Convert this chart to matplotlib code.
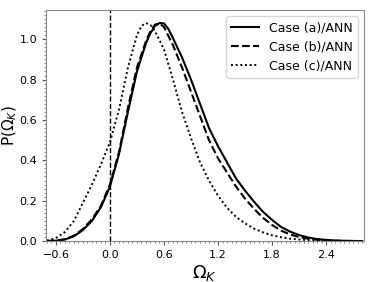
import matplotlib
matplotlib.use("Agg")
import matplotlib.pyplot as plt
from matplotlib.ticker import MultipleLocator

x_a = [-0.7, -0.6, -0.5, -0.4, -0.3, -0.2, -0.1, 0.0, 0.1, 0.2, 0.3, 0.4, 0.45, 0.5, 0.55, 0.6, 0.65,
       0.7, 0.8, 0.9, 1.0, 1.1, 1.2, 1.3, 1.4, 1.5, 1.6, 1.7, 1.8, 1.9, 2.0, 2.1, 2.2,
       2.3, 2.4, 2.5, 2.6, 2.7, 2.8]
p_a = [0.0005, 0.002, 0.008, 0.024, 0.055, 0.10, 0.168, 0.27, 0.43, 0.64, 0.84, 0.98, 1.03, 1.065, 1.08, 1.078, 1.05,
       1.005, 0.91, 0.80, 0.68, 0.56, 0.47, 0.39, 0.31, 0.25, 0.195, 0.145, 0.105, 0.07, 0.047, 0.03, 0.018,
       0.01, 0.006, 0.003, 0.0015, 0.0007, 0.0003]

x_b = [-0.7, -0.6, -0.5, -0.4, -0.3, -0.2, -0.1, 0.0, 0.1, 0.2, 0.3, 0.4, 0.45, 0.5, 0.55, 0.6,
       0.7, 0.8, 0.9, 1.0, 1.1, 1.2, 1.3, 1.4, 1.5, 1.6, 1.7, 1.8, 1.9, 2.0, 2.1, 2.2,
       2.3, 2.4, 2.5, 2.6, 2.7, 2.8]
p_b = [0.0005, 0.002, 0.009, 0.027, 0.06, 0.108, 0.175, 0.28, 0.44, 0.66, 0.86, 0.99, 1.04, 1.072, 1.078, 1.06,
       0.97, 0.86, 0.74, 0.62, 0.50, 0.41, 0.34, 0.27, 0.21, 0.16, 0.115, 0.08, 0.052, 0.033, 0.02, 0.012,
       0.007, 0.004, 0.002, 0.001, 0.0005, 0.0002]

x_c = [-0.7, -0.6, -0.5, -0.4, -0.3, -0.2, -0.1, 0.0, 0.1, 0.2, 0.3, 0.35, 0.4, 0.45, 0.5, 0.6,
       0.7, 0.8, 0.9, 1.0, 1.1, 1.2, 1.3, 1.4, 1.5, 1.6, 1.7, 1.8, 1.9, 2.0, 2.1, 2.2,
       2.3, 2.4, 2.5, 2.6, 2.7, 2.8]
p_c = [0.003, 0.015, 0.045, 0.10, 0.19, 0.28, 0.38, 0.49, 0.65, 0.86, 1.02, 1.065, 1.08, 1.07, 1.04, 0.95,
       0.80, 0.64, 0.51, 0.39, 0.30, 0.225, 0.165, 0.12, 0.088, 0.062, 0.043, 0.029, 0.019, 0.012, 0.008, 0.005,
       0.003, 0.002, 0.001, 0.0005, 0.0003, 0.0001]

labels = ["Case (a)/ANN", "Case (b)/ANN", "Case (c)/ANN"]
xticks = [-0.6, 0.0, 0.6, 1.2, 1.8, 2.4]
yticks = [0.0, 0.2, 0.4, 0.6, 0.8, 1.0]

fig = plt.figure(figsize=(3.74, 2.82), dpi=100)
ax = fig.add_axes([0.123, 0.145, 0.85, 0.82])

ax.plot(x_a, p_a, color="black", ls="-", lw=1.5, label=labels[0])
ax.plot(x_b, p_b, color="black", ls="--", lw=1.5, label=labels[1])
ax.plot(x_c, p_c, color="black", ls=(0, (1, 1.4)), lw=1.4, label=labels[2])
ax.axvline(0.0, color="black", ls="--", lw=1.0)

ax.set_xlim(-0.71, 2.82)
ax.set_ylim(0, 1.145)
ax.set_xticks(xticks)
ax.set_yticks(yticks)
ax.xaxis.set_minor_locator(MultipleLocator(0.05))
ax.yaxis.set_minor_locator(MultipleLocator(0.02))
ax.tick_params(which="major", labelsize=8, length=3, color="#555555")
ax.tick_params(which="minor", length=1.5, color="#777777")
for s in ax.spines.values():
    s.set_color("#888888")

ax.set_xlabel(r"$\Omega_K$", fontsize=13, labelpad=2)
ax.set_ylabel(r"P($\Omega_K$)", fontsize=11)
ax.yaxis.set_label_coords(-0.085, 0.5)
ax.legend(loc="upper right", fontsize=9, handlelength=2.2, borderaxespad=0.5)

fig.savefig("out.png", dpi=100)
